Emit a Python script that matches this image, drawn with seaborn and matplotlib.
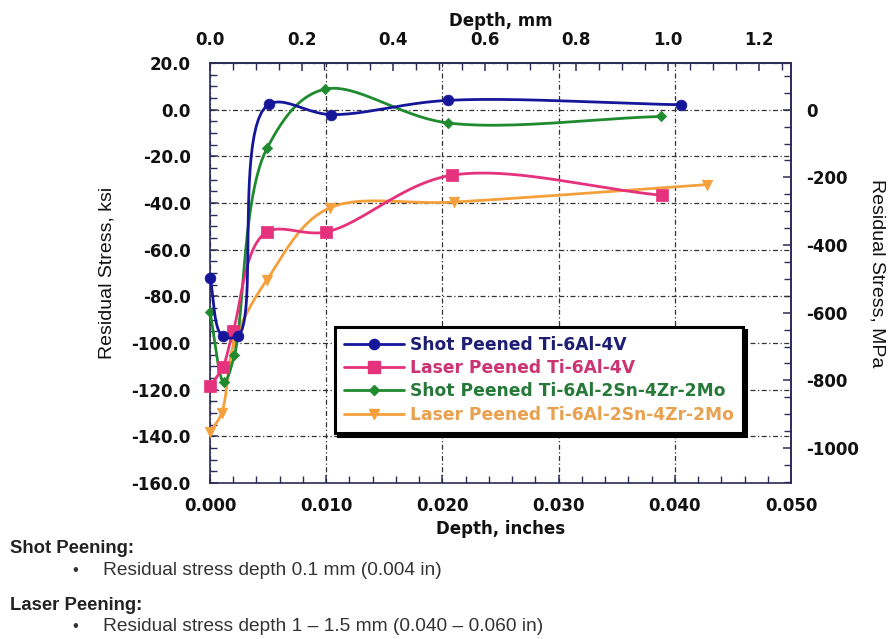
import numpy as np
import pandas as pd
import seaborn as sns
import matplotlib.pyplot as plt
from matplotlib.lines import Line2D
from matplotlib.ticker import MultipleLocator, FixedLocator, FormatStrFormatter

# depth in inches, residual stress in ksi
shot_64_depth = [0.0, 0.0011, 0.0024, 0.0051, 0.0104, 0.0205, 0.0405]
shot_64_stress = [-72.0, -97.0, -97.0, 2.4, -2.1, 4.0, 2.1]

laser_64_depth = [0.0, 0.0011, 0.0020, 0.0049, 0.0100, 0.0208, 0.0389]
laser_64_stress = [-118.5, -110.3, -94.7, -52.4, -52.4, -28.1, -36.7]

shot_6242_depth = [0.0, 0.0012, 0.0021, 0.0049, 0.0099, 0.0205, 0.0388]
shot_6242_stress = [-86.9, -116.8, -105.2, -16.6, 8.8, -5.7, -2.9]

laser_6242_depth = [0.0, 0.0010, 0.0021, 0.0049, 0.0103, 0.0210, 0.0428]
laser_6242_stress = [-138.3, -130.0, -99.5, -72.9, -42.1, -39.6, -32.1]

series_names = ["Shot Peened Ti-6Al-4V", "Laser Peened Ti-6Al-4V",
                "Shot Peened Ti-6Al-2Sn-4Zr-2Mo", "Laser Peened Ti-6Al-2Sn-4Zr-2Mo"]

mm_ticks = [0.0, 0.2, 0.4, 0.6, 0.8, 1.0, 1.2]
mpa_ticks = [-1000, -800, -600, -400, -200, 0]

notes = [("Shot Peening:", "Residual stress depth 0.1 mm (0.004 in)"),
         ("Laser Peening:", "Residual stress depth 1 \u2013 1.5 mm (0.040 \u2013 0.060 in)")]


def smooth_line(xs, ys, steps=25):
    # centripetal catmull-rom through the points, for the drawn curve only
    p = np.column_stack([np.asarray(xs) / 0.05, np.asarray(ys) / 180.0])
    p = np.vstack([2 * p[0] - p[1], p, 2 * p[-1] - p[-2]])
    out = []
    for i in range(1, len(p) - 2):
        p0, p1, p2, p3 = p[i - 1], p[i], p[i + 1], p[i + 2]
        t0 = 0.0
        t1 = t0 + np.linalg.norm(p1 - p0) ** 0.5
        t2 = t1 + np.linalg.norm(p2 - p1) ** 0.5
        t3 = t2 + np.linalg.norm(p3 - p2) ** 0.5
        t = np.linspace(t1, t2, steps)[:, None]
        a1 = (t1 - t) / (t1 - t0) * p0 + (t - t0) / (t1 - t0) * p1
        a2 = (t2 - t) / (t2 - t1) * p1 + (t - t1) / (t2 - t1) * p2
        a3 = (t3 - t) / (t3 - t2) * p2 + (t - t2) / (t3 - t2) * p3
        b1 = (t2 - t) / (t2 - t0) * a1 + (t - t0) / (t2 - t0) * a2
        b2 = (t3 - t) / (t3 - t1) * a2 + (t - t1) / (t3 - t1) * a3
        c = (t2 - t) / (t2 - t1) * b1 + (t - t1) / (t2 - t1) * b2
        out.append(c if i == 1 else c[1:])
    c = np.vstack(out)
    return c[:, 0] * 0.05, c[:, 1] * 180.0


sns.set_theme(style="white")
plt.rcParams['font.family'] = ['DejaVu Sans']
ARIAL = ['Liberation Sans', 'DejaVu Sans']

line_cols = ['#16169a', '#e6317c', '#1f8a2e', '#f4a03c']
text_cols = ['#1e1e72', '#cc3372', '#27793a', '#e9a150']
markers = ['o', 's', 'D', 'v']
msizes = [60, 72, 28, 58]
spine_col = '#2c2c58'
tick_fs = 12

data = [(shot_64_depth, shot_64_stress), (laser_64_depth, laser_64_stress),
        (shot_6242_depth, shot_6242_stress), (laser_6242_depth, laser_6242_stress)]

fig = plt.figure(figsize=(8.88, 6.39), dpi=100)
ax = fig.add_axes([0.2365, 0.2441, 0.6543, 0.6573])

handles = []
for k, (xs, ys) in enumerate(data):
    sx, sy = smooth_line(xs, ys)
    curve = pd.DataFrame({'depth': sx, 'stress': sy})
    pts = pd.DataFrame({'depth': xs, 'stress': ys})
    z = 10 - k
    sns.lineplot(data=curve, x='depth', y='stress', sort=False, estimator=None,
                 color=line_cols[k], lw=2.0, ax=ax, zorder=z)
    sns.scatterplot(data=pts, x='depth', y='stress', marker=markers[k], s=msizes[k],
                    color=line_cols[k], edgecolor=line_cols[k], linewidth=0.5,
                    ax=ax, zorder=z + 0.5, clip_on=False)
    handles.append(Line2D([], [], color=line_cols[k], lw=2.0, marker=markers[k],
                          markersize=np.sqrt(msizes[k]) * 0.95))

ax.set_xlim(0, 0.05)
ax.set_ylim(-160, 20)
ax.xaxis.set_major_locator(MultipleLocator(0.01))
ax.xaxis.set_minor_locator(MultipleLocator(0.002))
ax.yaxis.set_major_locator(MultipleLocator(20))
ax.yaxis.set_minor_locator(MultipleLocator(5))
ax.xaxis.set_major_formatter(FormatStrFormatter('%.3f'))
ax.yaxis.set_major_formatter(FormatStrFormatter('%.1f'))

ax.grid(True, which='major', color='#333333', lw=0.9, ls=(0, (4, 2, 1, 2)))
for sp in ax.spines.values():
    sp.set_color(spine_col)
    sp.set_linewidth(1.2)

ax.tick_params(axis='both', which='both', direction='in', color=spine_col,
               bottom=True, left=True, top=False, right=False)
ax.tick_params(axis='both', which='major', length=6, width=1.1, labelsize=tick_fs)
ax.tick_params(axis='both', which='minor', length=5, width=1.0)
ax.tick_params(axis='y', which='major', pad=14)
ax.tick_params(axis='x', which='major', pad=10)
for lab in ax.get_xticklabels() + ax.get_yticklabels():
    lab.set_fontweight('bold')
    lab.set_color('#111111')

ax.set_xlabel('Depth, inches', fontsize=12, fontweight='bold', color='#111111', labelpad=4)
ax.set_ylabel('Residual Stress, ksi', fontsize=14, family=ARIAL, color='#111111', labelpad=11)

# secondary scales: mm on top, MPa on right
secx = ax.secondary_xaxis('top', functions=(lambda v: v * 25.4, lambda v: v / 25.4))
secx.xaxis.set_major_locator(FixedLocator(mm_ticks))
secx.xaxis.set_minor_locator(FixedLocator(np.arange(0.0, 1.26, 0.05)))
secx.xaxis.set_major_formatter(FormatStrFormatter('%.1f'))
secx.tick_params(which='both', direction='in', color=spine_col, pad=10)
secx.tick_params(which='major', length=6, width=1.1, labelsize=tick_fs)
secx.tick_params(which='minor', length=5, width=1.0)
secx.spines['top'].set_color(spine_col)
secx.set_xlabel('Depth, mm', fontsize=12, fontweight='bold', color='#111111', labelpad=4)

secy = ax.secondary_yaxis('right', functions=(lambda v: v * 6.895, lambda v: v / 6.895))
secy.yaxis.set_major_locator(FixedLocator(mpa_ticks))
secy.yaxis.set_minor_locator(FixedLocator(np.arange(-1100, 101, 50)))
secy.yaxis.set_major_formatter(FormatStrFormatter('%d'))
secy.tick_params(which='both', direction='in', color=spine_col, pad=11)
secy.tick_params(which='major', length=6, width=1.1, labelsize=tick_fs)
secy.tick_params(which='minor', length=5, width=1.0)
secy.spines['right'].set_color(spine_col)
secy.set_ylabel('Residual Stress, MPa', fontsize=14, family=ARIAL, color='#111111',
                rotation=270, labelpad=19)
for lab in secx.get_xticklabels() + secy.get_yticklabels():
    lab.set_fontweight('bold')
    lab.set_color('#111111')

leg = ax.legend(handles, series_names, loc='upper left', bbox_to_anchor=(0.215, 0.372),
                frameon=True, fancybox=False, edgecolor='black', framealpha=1,
                shadow={'color': 'black', 'alpha': 1.0},
                prop={'weight': 'bold', 'size': 12.3}, handlelength=3.5,
                handletextpad=0.35, labelspacing=0.3, borderpad=0.55, borderaxespad=0)
leg.get_frame().set_linewidth(2.2)
leg.set_zorder(20)
for t, c in zip(leg.get_texts(), text_cols):
    t.set_color(c)

# notes under the chart
ys_head = [0.141, 0.053]
for (head, body), yh in zip(notes, ys_head):
    fig.text(0.011, yh, head, fontsize=13.3, fontweight='bold', family=ARIAL,
             color='#222222', va='center')
    fig.text(0.081, yh - 0.034, '\u2022', fontsize=12, family=ARIAL, color='#333333', va='center')
    fig.text(0.116, yh - 0.034, body, fontsize=13.8, family=ARIAL, color='#333333', va='center')

fig.savefig('out.png', dpi=100)
